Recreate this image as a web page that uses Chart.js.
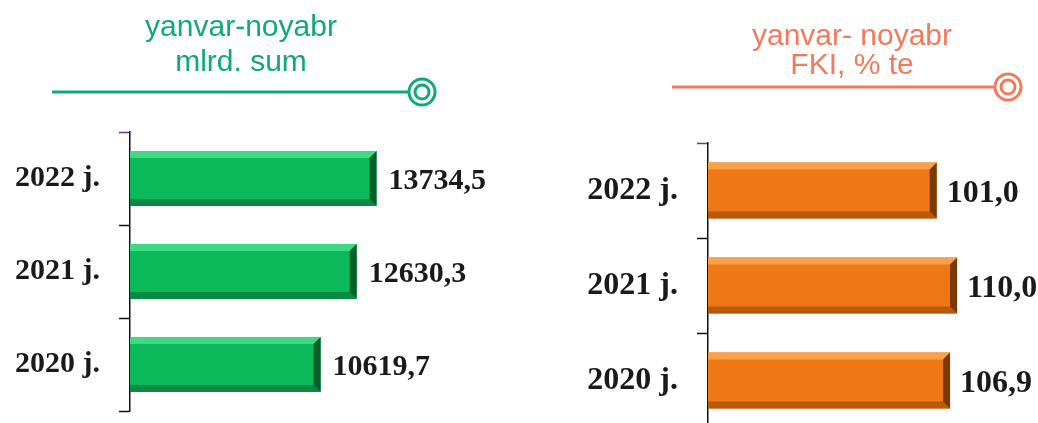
<!DOCTYPE html>
<html>
<head>
<meta charset="utf-8">
<script src="https://cdn.jsdelivr.net/npm/chart.js@4.4.1/dist/chart.umd.min.js"></script>
<style>
  html, body { margin: 0; padding: 0; background: #fff; overflow: hidden; }
  .box { position: absolute; top: 0; height: 480px; }
  #left { left: 0; width: 520px; }
  #right { left: 520px; width: 518px; }
</style>
</head>
<body>
<div class="box" id="left"><canvas id="sumChart"></canvas></div>
<div class="box" id="right"><canvas id="fkiChart"></canvas></div>
<script>
const years = ["2022 j.", "2021 j.", "2020 j."];
const sumValues = [13734.5, 12630.3, 10619.7];
const fkiValues = [101.0, 110.0, 106.9];
const sumTitle = ["yanvar-noyabr", "mlrd. sum"];
const fkiTitle = ["yanvar- noyabr", "FKI, % te"];

// header text + line with double ring
const headerPlugin = {
  id: "header",
  afterDraw(chart, args, o) {
    const ctx = chart.ctx;
    ctx.save();
    ctx.fillStyle = o.color;
    ctx.font = "30px 'Liberation Sans', Arial, sans-serif";
    ctx.textAlign = "center";
    ctx.textBaseline = "middle";
    o.lines.forEach((t, i) => ctx.fillText(t, o.cx, o.ys[i]));
    ctx.strokeStyle = o.color;
    ctx.lineWidth = 3;
    ctx.beginPath();
    ctx.moveTo(o.x0, o.ly);
    ctx.lineTo(o.rx - 13, o.ly);
    ctx.stroke();
    ctx.beginPath();
    ctx.arc(o.rx, o.ly, 13, 0, Math.PI * 2);
    ctx.stroke();
    ctx.beginPath();
    ctx.arc(o.rx, o.ly, 7, 0, Math.PI * 2);
    ctx.stroke();
    ctx.restore();
  }
};

// bevel look on bars + value labels
const barDeco = {
  id: "barDeco",
  afterDatasetsDraw(chart, args, o) {
    const ctx = chart.ctx;
    const meta = chart.getDatasetMeta(0);
    const data = chart.data.datasets[0].data;
    ctx.save();
    meta.data.forEach((bar, i) => {
      const l = bar.base, r = bar.x;
      const t = bar.y - bar.height / 2, b = bar.y + bar.height / 2;
      const s = 7;
      ctx.fillStyle = o.light;
      ctx.beginPath();
      ctx.moveTo(l, t); ctx.lineTo(r, t); ctx.lineTo(r - s, t + s); ctx.lineTo(l, t + s);
      ctx.fill();
      ctx.fillStyle = o.dark;
      ctx.beginPath();
      ctx.moveTo(l, b); ctx.lineTo(r, b); ctx.lineTo(r - s, b - s); ctx.lineTo(l, b - s);
      ctx.fill();
      ctx.fillStyle = o.darker;
      ctx.beginPath();
      ctx.moveTo(r, t); ctx.lineTo(r, b); ctx.lineTo(r - s, b - s); ctx.lineTo(r - s, t + s);
      ctx.fill();

      ctx.fillStyle = "#1a1a1a";
      ctx.font = "bold " + o.size + "px 'Liberation Serif', 'Times New Roman', serif";
      ctx.textAlign = "left";
      ctx.textBaseline = "middle";
      ctx.fillText(data[i].toFixed(1).replace(".", ","), r + o.gap, bar.y + 3);
    });
    ctx.restore();
  }
};

function makeChart(id, values, max, color, deco, head, axisW, pad, fontSize) {
  return new Chart(document.getElementById(id), {
    type: "bar",
    data: {
      labels: years,
      datasets: [{
        data: values,
        backgroundColor: color,
        borderWidth: 0,
        categoryPercentage: 1,
        barPercentage: 0.59
      }]
    },
    options: {
      indexAxis: "y",
      responsive: true,
      maintainAspectRatio: false,
      animation: false,
      layout: { padding: pad },
      plugins: {
        legend: { display: false },
        tooltip: { enabled: false },
        header: head,
        barDeco: deco
      },
      scales: {
        x: { display: false, min: 0, max: max },
        y: {
          afterFit: s => { s.width = axisW; },
          border: { display: true, color: "#111", width: 1.5 },
          grid: {
            drawOnChartArea: false,
            tickLength: 11,
            tickWidth: 1.5,
            color: c => (c.index === 0 ? "#7030a0" : "#111")
          },
          ticks: {
            padding: 19,
            color: "#1a1a1a",
            font: { family: "'Liberation Serif', 'Times New Roman', serif", size: fontSize, weight: "bold" }
          }
        }
      }
    },
    plugins: [headerPlugin, barDeco]
  });
}

makeChart("sumChart", sumValues, 20000, "#0cb95a",
  { light: "#3fd985", dark: "#0a8a42", darker: "#06602c", gap: 12, size: 30 },
  { color: "#12a87a", lines: sumTitle, cx: 241, ys: [28, 63], x0: 52, ly: 92, rx: 422 },
  130, { top: 132, bottom: 69, left: 0, right: 31 }, 30);

makeChart("fkiChart", fkiValues, 140, "#f07814",
  { light: "#f9a04a", dark: "#b85a0c", darker: "#7a3a06", gap: 10, size: 32 },
  { color: "#f27a5a", lines: fkiTitle, cx: 332, ys: [37, 66], x0: 152, ly: 87, rx: 488 },
  188, { top: 143, bottom: 52, left: 0, right: 13 }, 32);
</script>
</body>
</html>
